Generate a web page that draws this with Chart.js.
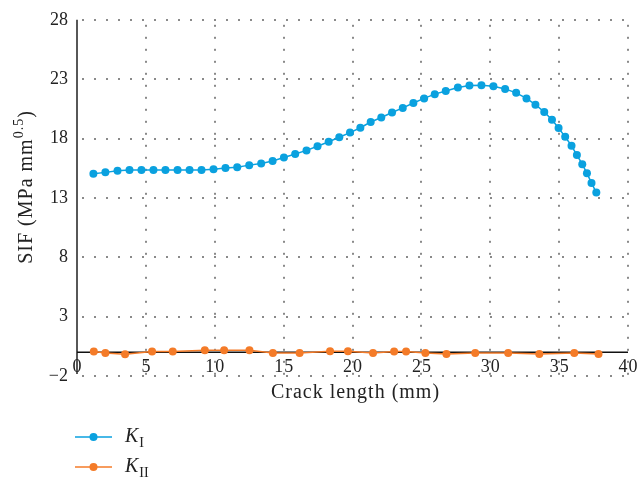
<!DOCTYPE html>
<html>
<head>
<meta charset="utf-8">
<script src="https://cdn.jsdelivr.net/npm/chart.js@4.4.1/dist/chart.umd.min.js"></script>
<style>
  html, body { margin: 0; padding: 0; background: #ffffff; }
  #wrap { width: 638px; height: 481px; position: relative; }
</style>
</head>
<body>
<div id="wrap"><canvas id="sif" width="638" height="481"></canvas></div>
<script>
// Stress intensity factors along the crack path
const crackLengthKI = [1.19, 2.06, 2.94, 3.81, 4.68, 5.55, 6.42, 7.30, 8.17, 9.04,
  9.91, 10.78, 11.63, 12.50, 13.37, 14.20, 15.02, 15.84, 16.66, 17.46,
  18.27, 19.04, 19.82, 20.57, 21.32, 22.09, 22.87, 23.65, 24.42, 25.20,
  25.97, 26.77, 27.65, 28.49, 29.36, 30.23, 31.08, 31.88, 32.63, 33.28,
  33.92, 34.48, 34.96, 35.44, 35.90, 36.29, 36.68, 37.02, 37.35, 37.70];
const valuesKI = [15.03, 15.15, 15.28, 15.36, 15.36, 15.36, 15.36, 15.36, 15.36, 15.36,
  15.42, 15.51, 15.59, 15.76, 15.90, 16.11, 16.40, 16.69, 17.00, 17.35,
  17.73, 18.11, 18.50, 18.91, 19.39, 19.77, 20.19, 20.58, 20.99, 21.38,
  21.74, 22.01, 22.30, 22.46, 22.49, 22.41, 22.18, 21.85, 21.38, 20.85,
  20.24, 19.58, 18.89, 18.14, 17.39, 16.61, 15.84, 15.07, 14.26, 13.45];

const crackLengthKII = [1.22, 2.06, 3.49, 5.45, 6.95, 9.28, 10.68, 12.52, 14.22, 16.16,
  18.37, 19.67, 21.49, 23.02, 23.89, 25.29, 26.82, 28.91, 31.30, 33.56, 36.10, 37.86];
const valuesKII = [0.06, -0.06, -0.17, 0.06, 0.06, 0.17, 0.17, 0.17, -0.06, -0.06,
  0.08, 0.08, -0.06, 0.06, 0.06, -0.06, -0.14, -0.06, -0.06, -0.14, -0.06, -0.14];

const xTicks = [0, 5, 10, 15, 20, 25, 30, 35, 40];
const yTicks = [-2, 3, 8, 13, 18, 23, 28];

const BLUE = '#0AA1DF';
const ORANGE = '#F47B28';
const SERIF = '"Liberation Serif", "DejaVu Serif", serif';

const toPoints = (xs, ys) => xs.map((x, i) => ({ x: x, y: ys[i] }));

// Dotted grid, axis lines at x = 0 and y = 0, x tick labels on the zero line
const frame = {
  id: 'frame',
  beforeDatasetsDraw(chart) {
    const { ctx, chartArea: a, scales: { x, y } } = chart;
    ctx.save();
    ctx.fillStyle = '#8a8a8a';
    const step = 12;
    yTicks.forEach(v => {
      const py = Math.round(y.getPixelForValue(v));
      for (let px = a.left + 6; px <= a.right + 1; px += step) ctx.fillRect(px - 1, py - 1, 2, 2);
    });
    xTicks.forEach(v => {
      if (v === 0) return;
      const px = Math.round(x.getPixelForValue(v));
      for (let py = a.top + 6; py <= a.bottom; py += step) ctx.fillRect(px - 1, py - 1, 2, 2);
    });
    // axis lines
    ctx.strokeStyle = '#111';
    ctx.lineWidth = 1.4;
    const x0 = x.getPixelForValue(0);
    const y0 = y.getPixelForValue(0);
    ctx.beginPath();
    ctx.moveTo(x0, a.top);
    ctx.lineTo(x0, a.bottom - 2);
    ctx.moveTo(x0, y0);
    ctx.lineTo(a.right, y0);
    ctx.stroke();
    // x tick labels just under the zero line
    ctx.fillStyle = '#222';
    ctx.font = '18px ' + SERIF;
    ctx.letterSpacing = '1px';
    ctx.textAlign = 'center';
    ctx.textBaseline = 'middle';
    xTicks.forEach(v => ctx.fillText(String(v), x.getPixelForValue(v) + 0.5, y0 + 15));
    ctx.restore();
  },
  afterDraw(chart) {
    const { ctx, chartArea: a } = chart;
    ctx.save();
    ctx.fillStyle = '#222';
    // x axis title
    ctx.font = '20px ' + SERIF;
    ctx.letterSpacing = '1px';
    ctx.textAlign = 'center';
    ctx.textBaseline = 'middle';
    ctx.fillText('Crack length (mm)', (a.left + a.right) / 2 + 3, 393);
    // y axis title with superscript exponent
    ctx.translate(27, 187);
    ctx.rotate(-Math.PI / 2);
    const main = 'SIF (MPa mm';
    const sup = '0.5';
    const tail = ')';
    ctx.font = '20px ' + SERIF;
    const wMain = ctx.measureText(main).width;
    const wTail = ctx.measureText(tail).width;
    ctx.font = '14px ' + SERIF;
    const wSup = ctx.measureText(sup).width;
    let cx = -(wMain + wSup + wTail) / 2;
    ctx.textAlign = 'left';
    ctx.font = '20px ' + SERIF;
    ctx.fillText(main, cx, 0);
    cx += wMain;
    ctx.font = '14px ' + SERIF;
    ctx.fillText(sup, cx, -8);
    cx += wSup;
    ctx.font = '20px ' + SERIF;
    ctx.fillText(tail, cx, 0);
    ctx.setTransform(1, 0, 0, 1, 0, 0);
    ctx.letterSpacing = '0px';
    // legend
    const items = [
      { color: BLUE, sub: 'I', y: 437 },
      { color: ORANGE, sub: 'II', y: 467 }
    ];
    items.forEach(it => {
      ctx.strokeStyle = it.color;
      ctx.lineWidth = 1.5;
      ctx.beginPath();
      ctx.moveTo(75, it.y);
      ctx.lineTo(112, it.y);
      ctx.stroke();
      ctx.fillStyle = it.color;
      ctx.beginPath();
      ctx.arc(93.5, it.y, 4, 0, Math.PI * 2);
      ctx.fill();
      ctx.fillStyle = '#222';
      ctx.textAlign = 'left';
      ctx.textBaseline = 'middle';
      ctx.font = 'italic 20px ' + SERIF;
      ctx.fillText('K', 125, it.y);
      const wK = ctx.measureText('K').width;
      ctx.font = '14px ' + SERIF;
      ctx.fillText(it.sub, 125 + wK + 1, it.y + 6);
    });
    ctx.restore();
  }
};

new Chart(document.getElementById('sif'), {
  type: 'scatter',
  data: {
    datasets: [
      {
        label: 'K_I',
        data: toPoints(crackLengthKI, valuesKI),
        showLine: true,
        borderColor: BLUE,
        backgroundColor: BLUE,
        borderWidth: 1.5,
        pointRadius: 4,
        pointBorderWidth: 0,
        tension: 0
      },
      {
        label: 'K_II',
        data: toPoints(crackLengthKII, valuesKII),
        showLine: true,
        borderColor: ORANGE,
        backgroundColor: ORANGE,
        borderWidth: 1.5,
        pointRadius: 4,
        pointBorderWidth: 0,
        tension: 0
      }
    ]
  },
  options: {
    responsive: false,
    animation: false,
    layout: { padding: { top: 16, right: 10, left: 0, bottom: 0 } },
    plugins: { legend: { display: false }, tooltip: { enabled: false } },
    scales: {
      x: {
        type: 'linear',
        min: 0,
        max: 40,
        grid: { display: false },
        border: { display: false },
        ticks: { display: false, stepSize: 5 },
        afterFit(scale) { scale.height = 105; }
      },
      y: {
        type: 'linear',
        min: -2,
        max: 28,
        grid: { display: false, drawTicks: false },
        border: { display: false },
        ticks: {
          stepSize: 5,
          padding: 9,
          color: '#222',
          font: { family: SERIF, size: 18 },
          callback: v => String(v).replace('-', '\u2212')
        },
        afterFit(scale) { scale.width = 77; }
      }
    }
  },
  plugins: [frame]
});
</script>
</body>
</html>
